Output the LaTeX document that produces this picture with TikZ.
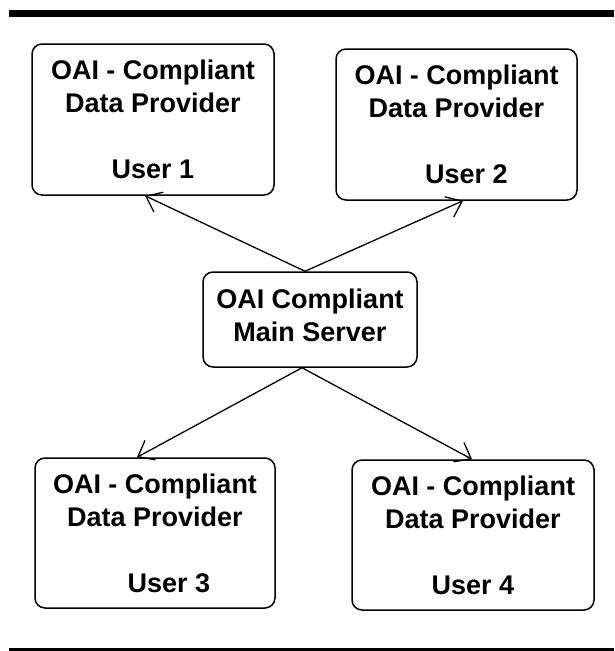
\documentclass[tikz,border=0pt]{standalone}
\usepackage{fontspec}
\setmainfont{Liberation Sans}
\usetikzlibrary{arrows.meta}
\begin{document}
\begin{tikzpicture}[x=1pt,y=-1pt,
  box/.style={draw, line width=1.5pt, rounded corners=10pt, inner sep=0pt,
    align=center, font=\fontsize{27}{33}\selectfont\bfseries},
  link/.style={line width=1.3pt, -{Straight Barb[length=14pt,width=22pt,line width=1.3pt]}}]
  \useasboundingbox (0,0) rectangle (614,651);
  % horizontal rules above and below
  \fill (9,10) rectangle (614,17);
  \fill (9,647.5) rectangle (614,651);
  % data providers and the main server
  \node[box, minimum width=242pt, minimum height=151pt] (p1) at (153,119.5)
    {OAI - Compliant\\Data Provider\\[33pt]User 1};
  \node[box, minimum width=241pt, minimum height=151pt] (p2) at (456.5,124.5)
    {OAI - Compliant\\Data Provider\\[33pt]\hspace*{20pt}User 2};
  \node[box, minimum width=214pt, minimum height=95pt] (srv) at (310,319.5)
    {OAI Compliant\\Main Server\rule[-9pt]{0pt}{9pt}};
  \node[box, minimum width=240pt, minimum height=150pt] (p3) at (155,533)
    {OAI - Compliant\\Data Provider\\[33pt]\hspace*{28pt}User 3};
  \node[box, minimum width=242pt, minimum height=150pt] (p4) at (473,535)
    {OAI - Compliant\\Data Provider\\[33pt]User 4};
  % connectors from the server to each provider
  \coordinate (st) at ([xshift=-5pt]srv.north);
  \coordinate (sb) at ([xshift=-8pt]srv.south);
  \draw[link] (st) -- ([xshift=-8pt]p1.south);
  \draw[link] (st) -- ([xshift=6.5pt]p2.south);
  \draw[link] (sb) -- ([xshift=-18pt]p3.north);
  \draw[link] (sb) -- ([xshift=-1pt]p4.north);
\end{tikzpicture}
\end{document}
